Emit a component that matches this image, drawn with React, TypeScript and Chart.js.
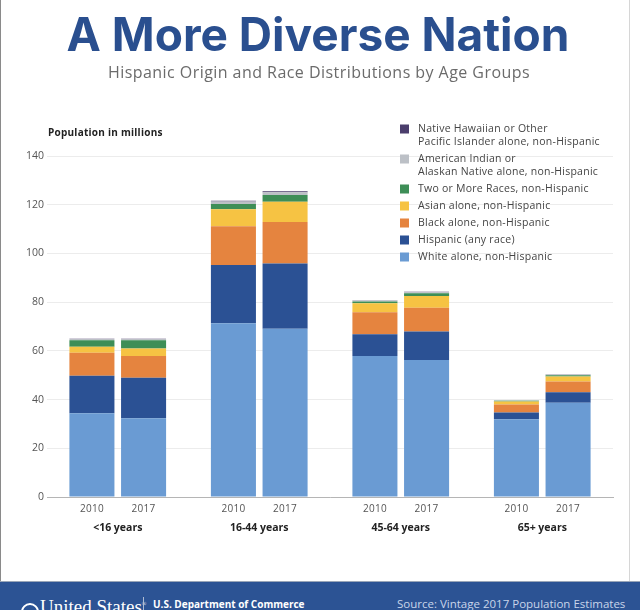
import React, { useEffect, useRef } from "react";
import { Chart, registerables } from "chart.js";

Chart.register(...registerables);

const groups = ["<16 years", "16-44 years", "45-64 years", "65+ years"];
const years = ["2010", "2017"];
const yTicks = [0, 20, 40, 60, 80, 100, 120, 140];

const raceNames = [
  "White alone, non-Hispanic",
  "Hispanic (any race)",
  "Black alone, non-Hispanic",
  "Asian alone, non-Hispanic",
  "Two or More Races, non-Hispanic",
  "American Indian or Alaskan Native alone, non-Hispanic",
  "Native Hawaiian or Other Pacific Islander alone, non-Hispanic",
];
const legendLines = [
  ["White alone, non-Hispanic"],
  ["Hispanic (any race)"],
  ["Black alone, non-Hispanic"],
  ["Asian alone, non-Hispanic"],
  ["Two or More Races, non-Hispanic"],
  ["American Indian or", "Alaskan Native alone, non-Hispanic"],
  ["Native Hawaiian or Other", "Pacific Islander alone, non-Hispanic"],
];
const raceColors = ["#6a9bd3", "#2b5194", "#e5843f", "#f6c343", "#3e8e57", "#bcc0c6", "#4b3e6c"];

// values in millions, per age group
const white2010 = [34.4, 71.3, 57.9, 31.9];
const hispanic2010 = [15.4, 23.9, 8.9, 2.8];
const black2010 = [9.4, 16.0, 9.0, 3.3];
const asian2010 = [2.5, 6.9, 3.7, 1.2];
const twoOrMore2010 = [2.7, 2.2, 0.8, 0.3];
const aian2010 = [0.5, 1.0, 0.4, 0.2];
const nhpi2010 = [0.1, 0.3, 0.1, 0.05];

const white2017 = [32.3, 69.1, 56.2, 38.7];
const hispanic2017 = [16.7, 26.8, 11.7, 4.3];
const black2017 = [8.9, 17.0, 9.8, 4.4];
const asian2017 = [3.1, 8.3, 4.8, 2.1];
const twoOrMore2017 = [3.4, 2.8, 1.1, 0.5];
const aian2017 = [0.5, 1.1, 0.5, 0.3];
const nhpi2017 = [0.1, 0.4, 0.2, 0.1];

const series2010 = [white2010, hispanic2010, black2010, asian2010, twoOrMore2010, aian2010, nhpi2010];
const series2017 = [white2017, hispanic2017, black2017, asian2017, twoOrMore2017, aian2017, nhpi2017];

const FONT = "'Open Sans', sans-serif";

const legendPlugin = {
  id: "customLegend",
  afterDraw(chart: any) {
    const ctx = chart.ctx;
    ctx.save();
    ctx.font = `10.5px ${FONT}`;
    try { ctx.letterSpacing = "0.25px"; } catch (e) {}
    ctx.textBaseline = "middle";
    ctx.textAlign = "left";
    let y = 129;
    for (let i = raceNames.length - 1; i >= 0; i--) {
      const ds = chart.data.datasets[i];
      ctx.fillStyle = ds.backgroundColor;
      ctx.fillRect(400, y - 4.5, 9, 9);
      ctx.fillStyle = "#444";
      const lines = legendLines[i];
      lines.forEach((l: string, j: number) => ctx.fillText(l, 418, y + j * 13));
      y += (lines.length - 1) * 13 + 17;
    }
    ctx.restore();
  },
};

const yearLabelPlugin = {
  id: "yearLabels",
  afterDraw(chart: any) {
    const ctx = chart.ctx;
    ctx.save();
    ctx.font = `10px ${FONT}`;
    try { ctx.letterSpacing = "0.3px"; } catch (e) {}
    ctx.fillStyle = "#555";
    ctx.textAlign = "center";
    ctx.textBaseline = "middle";
    const bottom = chart.chartArea.bottom;
    years.forEach((yr, k) => {
      const meta = chart.getDatasetMeta(k * raceNames.length);
      meta.data.forEach((bar: any) => ctx.fillText(yr, bar.x, bottom + 12));
    });
    ctx.restore();
  },
};

export default function App() {
  const ref = useRef<HTMLCanvasElement | null>(null);

  useEffect(() => {
    if (!ref.current) return;
    const datasets: any[] = [];
    [series2010, series2017].forEach((series, k) => {
      series.forEach((vals, i) => {
        datasets.push({
          label: raceNames[i],
          data: vals,
          backgroundColor: raceColors[i],
          stack: years[k],
          borderWidth: 0,
          categoryPercentage: 0.73,
          barPercentage: 0.872,
        });
      });
    });
    const chart = new Chart(ref.current, {
      type: "bar",
      data: { labels: groups, datasets },
      plugins: [legendPlugin, yearLabelPlugin],
      options: {
        responsive: false,
        animation: false,
        layout: { padding: { top: 156, right: 27, bottom: 0, left: 0 } },
        plugins: {
          legend: { display: false },
          tooltip: { enabled: false },
          title: { display: false },
        },
        scales: {
          x: {
            stacked: true,
            grid: { display: false, drawTicks: false },
            border: { display: true, color: "#b5b5b5", width: 1 },
            ticks: {
              padding: 25,
              color: "#222",
              font: { family: FONT, size: 10.5, weight: "bold" },
              maxRotation: 0,
            },
            afterFit: (s: any) => {
              s.height = 113;
            },
          },
          y: {
            stacked: true,
            min: 0,
            max: 140,
            afterBuildTicks: (s: any) => {
              s.ticks = yTicks.map((v) => ({ value: v }));
            },
            grid: { color: "#ececec", drawTicks: false },
            border: { display: false },
            ticks: {
              padding: 3,
              color: "#555",
              font: { family: FONT, size: 10.5 },
            },
            afterFit: (s: any) => {
              s.width = 47;
            },
          },
        },
      },
    });
    return () => chart.destroy();
  }, []);

  return (
    <div style={{ position: "fixed", left: 0, top: 0, width: 640, height: 610, background: "#fff", overflow: "hidden" }}>
      <canvas ref={ref} width={640} height={610} style={{ position: "absolute", left: 0, top: 0, width: 640, height: 610 }} />
      <div style={{ position: "absolute", left: 0, top: 0, width: 1, height: 582, background: "#8a8a8a" }} />
      <div style={{ position: "absolute", left: 629, top: 0, width: 1, height: 582, background: "#d6d6d6" }} />
      <div
        style={{
          position: "absolute", left: 0, width: 636, top: 11, textAlign: "center",
          fontFamily: "Inter, sans-serif", fontWeight: 700, fontSize: 46, lineHeight: "46px", color: "#2a4f8f",
        }}
      >
        A More Diverse Nation
      </div>
      <div
        style={{
          position: "absolute", left: 0, width: 638, top: 64, textAlign: "center",
          fontFamily: FONT, fontSize: 16, lineHeight: "16px", letterSpacing: "0.45px", color: "#6b6b6b",
        }}
      >
        Hispanic Origin and Race Distributions by Age Groups
      </div>
      <div
        style={{
          position: "absolute", left: 48, top: 126, fontFamily: FONT, fontWeight: 700,
          fontSize: 10, lineHeight: "12px", letterSpacing: "0.25px", color: "#222",
        }}
      >
        Population in millions
      </div>
      <div style={{ position: "absolute", left: 0, top: 581, width: 640, height: 1, background: "#9aa6b8" }} />
      <div style={{ position: "absolute", left: 0, top: 582, width: 640, height: 28, background: "#2c5394", overflow: "hidden" }}>
        <div style={{ position: "absolute", left: 21, top: 21, width: 18, height: 18, borderRadius: 9, border: "2px solid #fff", boxSizing: "border-box" }} />
        <div style={{ position: "absolute", left: 40, top: 13, fontFamily: "'Liberation Serif', serif", fontSize: 19, lineHeight: "19px", color: "#fff" }}>
          United States<sup style={{ fontSize: 6 }}>®</sup>
        </div>
        <div style={{ position: "absolute", left: 143, top: 15, width: 1, height: 14, background: "#aebbd3" }} />
        <div style={{ position: "absolute", left: 153, top: 16, fontFamily: FONT, fontWeight: 700, fontSize: 10, lineHeight: "12px", color: "#fff" }}>
          U.S. Department of Commerce
        </div>
        <div style={{ position: "absolute", left: 397, top: 15, fontFamily: FONT, fontSize: 11.5, lineHeight: "14px", color: "#c9d5ea" }}>
          Source: Vintage 2017 Population Estimates
        </div>
      </div>
    </div>
  );
}
